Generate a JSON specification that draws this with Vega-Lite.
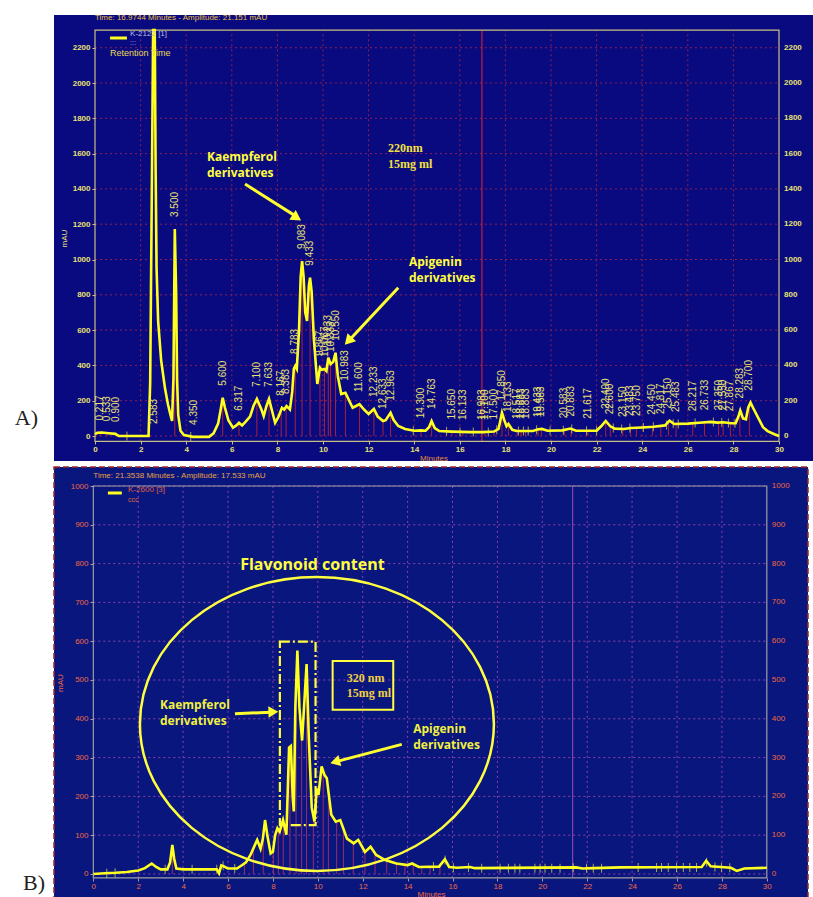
{
"$schema": "https://vega.github.io/schema/vega-lite/v6.json",
"background": "white",
"padding": {"left": 14, "top": 14, "right": 0, "bottom": 0},
"bounds": "flush",
"spacing": 6,
"config": {"view": {"stroke": null}, "font": "Liberation Sans"},
"resolve": {"scale": {"x": "independent", "y": "independent"}},
"datasets": {
"topCurve": [
{"t":0,"v":10},{"t":0.1,"v":18},{"t":0.3,"v":20},{"t":0.6,"v":16},{"t":0.9,"v":12},{"t":1.0,"v":3},{"t":1.05,"v":0},{"t":2.35,"v":0},{"t":2.42,"v":300},{"t":2.5,"v":1500},{"t":2.55,"v":2300},{"t":2.62,"v":2300},{"t":2.66,"v":1500},{"t":2.7,"v":950},{"t":2.77,"v":650},{"t":2.9,"v":430},{"t":3.07,"v":270},{"t":3.2,"v":180},{"t":3.3,"v":125},{"t":3.38,"v":85},{"t":3.44,"v":320},{"t":3.5,"v":1173},{"t":3.56,"v":800},{"t":3.6,"v":320},{"t":3.65,"v":120},{"t":3.75,"v":30},{"t":3.9,"v":5},{"t":4.3,"v":-5},{"t":5.0,"v":-5},{"t":5.2,"v":15},{"t":5.4,"v":70},{"t":5.5,"v":140},{"t":5.6,"v":217},{"t":5.7,"v":160},{"t":5.85,"v":90},{"t":6.05,"v":47},{"t":6.2,"v":60},{"t":6.317,"v":75},{"t":6.45,"v":60},{"t":6.6,"v":80},{"t":6.8,"v":110},{"t":6.95,"v":170},{"t":7.1,"v":210},{"t":7.3,"v":150},{"t":7.4,"v":113},{"t":7.52,"v":170},{"t":7.633,"v":210},{"t":7.75,"v":150},{"t":7.9,"v":75},{"t":8.05,"v":110},{"t":8.2,"v":160},{"t":8.3,"v":150},{"t":8.4,"v":170},{"t":8.55,"v":150},{"t":8.65,"v":250},{"t":8.72,"v":380},{"t":8.783,"v":397},{"t":8.85,"v":380},{"t":8.95,"v":600},{"t":9.02,"v":900},{"t":9.083,"v":991},{"t":9.15,"v":900},{"t":9.22,"v":700},{"t":9.3,"v":652},{"t":9.38,"v":850},{"t":9.433,"v":897},{"t":9.5,"v":820},{"t":9.6,"v":550},{"t":9.75,"v":295},{"t":9.867,"v":387},{"t":9.95,"v":375},{"t":10.067,"v":380},{"t":10.15,"v":368},{"t":10.233,"v":444},{"t":10.333,"v":408},{"t":10.45,"v":420},{"t":10.55,"v":472},{"t":10.65,"v":340},{"t":10.8,"v":238},{"t":10.983,"v":245},{"t":11.15,"v":200},{"t":11.3,"v":160},{"t":11.45,"v":170},{"t":11.6,"v":181},{"t":11.8,"v":150},{"t":12.0,"v":125},{"t":12.233,"v":153},{"t":12.4,"v":110},{"t":12.633,"v":85},{"t":12.75,"v":90},{"t":12.963,"v":132},{"t":13.1,"v":90},{"t":13.3,"v":57},{"t":13.6,"v":40},{"t":14.0,"v":30},{"t":14.3,"v":32},{"t":14.5,"v":30},{"t":14.65,"v":50},{"t":14.763,"v":85},{"t":14.9,"v":45},{"t":15.1,"v":28},{"t":15.65,"v":25},{"t":16.5,"v":22},{"t":17.0,"v":22},{"t":17.5,"v":25},{"t":17.7,"v":40},{"t":17.85,"v":132},{"t":17.95,"v":90},{"t":18.05,"v":55},{"t":18.133,"v":68},{"t":18.3,"v":35},{"t":18.5,"v":28},{"t":19.2,"v":28},{"t":19.45,"v":38},{"t":19.6,"v":40},{"t":19.85,"v":30},{"t":20.5,"v":32},{"t":20.85,"v":42},{"t":21.1,"v":30},{"t":22.0,"v":30},{"t":22.2,"v":55},{"t":22.4,"v":85},{"t":22.6,"v":55},{"t":22.8,"v":42},{"t":23.2,"v":40},{"t":23.5,"v":45},{"t":24.0,"v":48},{"t":24.5,"v":52},{"t":25.0,"v":60},{"t":25.2,"v":87},{"t":25.4,"v":68},{"t":26.0,"v":70},{"t":26.5,"v":75},{"t":27.0,"v":80},{"t":27.3,"v":76},{"t":27.55,"v":78},{"t":27.9,"v":72},{"t":28.1,"v":72},{"t":28.22,"v":110},{"t":28.3,"v":145},{"t":28.42,"v":100},{"t":28.55,"v":95},{"t":28.65,"v":160},{"t":28.75,"v":189},{"t":28.9,"v":150},{"t":29.1,"v":100},{"t":29.3,"v":50},{"t":29.5,"v":28},{"t":29.8,"v":10},{"t":30,"v":0}
],
"topPeaks": [
{"t":0.217,"h":20,"lab":"0.217"},{"t":0.533,"h":16,"lab":"0.533"},{"t":0.9,"h":12,"lab":"0.900"},{"t":2.583,"h":0,"lab":"2.583"},{"t":3.5,"h":1173,"lab":"3.500"},{"t":4.35,"h":-5,"lab":"4.350"},{"t":5.6,"h":217,"lab":"5.600"},{"t":6.317,"h":75,"lab":"6.317"},{"t":7.1,"h":210,"lab":"7.100"},{"t":7.633,"h":210,"lab":"7.633"},{"t":8.167,"h":160,"lab":"8.167"},{"t":8.383,"h":170,"lab":"8.383"},{"t":8.783,"h":397,"lab":"8.783"},{"t":9.083,"h":991,"lab":"9.083"},{"t":9.433,"h":897,"lab":"9.433"},{"t":9.867,"h":387,"lab":"9.867"},{"t":10.067,"h":380,"lab":"10.067"},{"t":10.233,"h":444,"lab":"10.233"},{"t":10.333,"h":408,"lab":"10.333"},{"t":10.55,"h":472,"lab":"10.550"},{"t":10.983,"h":245,"lab":"10.983"},{"t":11.6,"h":181,"lab":"11.600"},{"t":12.233,"h":153,"lab":"12.233"},{"t":12.633,"h":85,"lab":"12.633"},{"t":12.963,"h":132,"lab":"12.963"},{"t":14.3,"h":32,"lab":"14.300"},{"t":14.763,"h":85,"lab":"14.763"},{"t":15.65,"h":25,"lab":"15.650"},{"t":16.133,"h":22,"lab":"16.133"},{"t":16.983,"h":22,"lab":"16.983"},{"t":17.1,"h":22,"lab":"17.100"},{"t":17.5,"h":25,"lab":"17.500"},{"t":17.85,"h":132,"lab":"17.850"},{"t":18.133,"h":68,"lab":"18.133"},{"t":18.517,"h":28,"lab":"18.517"},{"t":18.683,"h":28,"lab":"18.683"},{"t":18.883,"h":28,"lab":"18.883"},{"t":19.433,"h":38,"lab":"19.433"},{"t":19.583,"h":40,"lab":"19.583"},{"t":20.583,"h":32,"lab":"20.583"},{"t":20.883,"h":42,"lab":"20.883"},{"t":21.617,"h":30,"lab":"21.617"},{"t":22.4,"h":85,"lab":"22.400"},{"t":22.6,"h":55,"lab":"22.600"},{"t":23.15,"h":40,"lab":"23.150"},{"t":23.483,"h":45,"lab":"23.483"},{"t":23.75,"h":46,"lab":"23.750"},{"t":24.45,"h":52,"lab":"24.450"},{"t":24.817,"h":56,"lab":"24.817"},{"t":25.15,"h":87,"lab":"25.150"},{"t":25.483,"h":68,"lab":"25.483"},{"t":26.217,"h":72,"lab":"26.217"},{"t":26.733,"h":78,"lab":"26.733"},{"t":27.35,"h":76,"lab":"27.350"},{"t":27.55,"h":78,"lab":"27.550"},{"t":27.867,"h":72,"lab":"27.867"},{"t":28.283,"h":145,"lab":"28.283"},{"t":28.7,"h":189,"lab":"28.700"}
],
"topTicks": [
{"t":1.4,"h":0},{"t":4.2,"h":-3},{"t":13.96,"h":30},{"t":15.42,"h":27},{"t":16.01,"h":22},{"t":16.59,"h":22},{"t":17.25,"h":23},{"t":17.62,"h":35},{"t":18.57,"h":28},{"t":18.79,"h":28},{"t":19.0,"h":28},{"t":19.37,"h":35},{"t":19.96,"h":30},{"t":20.54,"h":32},{"t":20.91,"h":40},{"t":21.56,"h":30},{"t":22.0,"h":30},{"t":22.73,"h":45},{"t":23.1,"h":40},{"t":23.46,"h":45},{"t":24.05,"h":48},{"t":24.49,"h":52},{"t":25.07,"h":62},{"t":25.36,"h":70},{"t":25.58,"h":68},{"t":26.32,"h":73},{"t":27.12,"h":79},{"t":27.49,"h":77},{"t":27.78,"h":74},{"t":28.07,"h":72}
],
"gridTopX": [{"g":2},{"g":4},{"g":6},{"g":8},{"g":10},{"g":12},{"g":14},{"g":16},{"g":18},{"g":20},{"g":22},{"g":24},{"g":26},{"g":28}],
"gridTopY": [{"g":0},{"g":200},{"g":400},{"g":600},{"g":800},{"g":1000},{"g":1200},{"g":1400},{"g":1600},{"g":1800},{"g":2000},{"g":2200}],
"botCurve": [
{"t":0,"v":0},{"t":0.5,"v":2},{"t":1.0,"v":3},{"t":1.5,"v":5},{"t":2.0,"v":9},{"t":2.3,"v":15},{"t":2.6,"v":27},{"t":2.8,"v":18},{"t":3.0,"v":12},{"t":3.3,"v":12},{"t":3.42,"v":30},{"t":3.52,"v":75},{"t":3.6,"v":40},{"t":3.7,"v":14},{"t":4.0,"v":12},{"t":5.5,"v":12},{"t":5.6,"v":2},{"t":5.7,"v":22},{"t":5.8,"v":20},{"t":6.0,"v":14},{"t":6.4,"v":14},{"t":6.6,"v":22},{"t":6.8,"v":30},{"t":7.0,"v":49},{"t":7.2,"v":75},{"t":7.3,"v":88},{"t":7.45,"v":65},{"t":7.55,"v":90},{"t":7.65,"v":139},{"t":7.75,"v":100},{"t":7.9,"v":53},{"t":8.0,"v":57},{"t":8.1,"v":100},{"t":8.2,"v":118},{"t":8.3,"v":109},{"t":8.45,"v":139},{"t":8.6,"v":101},{"t":8.68,"v":250},{"t":8.72,"v":326},{"t":8.8,"v":330},{"t":8.88,"v":200},{"t":8.93,"v":161},{"t":9.0,"v":430},{"t":9.09,"v":576},{"t":9.18,"v":430},{"t":9.3,"v":344},{"t":9.5,"v":541},{"t":9.6,"v":350},{"t":9.73,"v":171},{"t":9.85,"v":135},{"t":9.95,"v":221},{"t":10.03,"v":204},{"t":10.17,"v":277},{"t":10.3,"v":255},{"t":10.4,"v":247},{"t":10.6,"v":153},{"t":10.8,"v":135},{"t":11.0,"v":139},{"t":11.3,"v":91},{"t":11.6,"v":79},{"t":11.8,"v":88},{"t":12.1,"v":57},{"t":12.35,"v":70},{"t":12.6,"v":49},{"t":13.0,"v":36},{"t":13.5,"v":27},{"t":14.0,"v":23},{"t":14.2,"v":27},{"t":14.5,"v":18},{"t":15.4,"v":19},{"t":15.66,"v":38},{"t":15.85,"v":18},{"t":16.2,"v":16},{"t":16.78,"v":18},{"t":17.0,"v":15},{"t":21.5,"v":17},{"t":21.8,"v":14},{"t":22.3,"v":15},{"t":23.5,"v":17},{"t":27.1,"v":18},{"t":27.3,"v":34},{"t":27.5,"v":20},{"t":28.4,"v":16},{"t":28.66,"v":8},{"t":29.0,"v":14},{"t":30,"v":16}
],
"botPeaks": [
{"t":3.52,"h":70},{"t":6.73,"h":27},{"t":7.13,"h":65},{"t":7.57,"h":90},{"t":8.02,"h":60},{"t":8.24,"h":115},{"t":8.46,"h":135},{"t":8.76,"h":326},{"t":9.03,"h":450},{"t":9.28,"h":360},{"t":9.5,"h":541},{"t":9.8,"h":140},{"t":10.24,"h":265},{"t":10.47,"h":230},{"t":10.84,"h":135},{"t":11.14,"h":115},{"t":11.58,"h":80},{"t":12.1,"h":57},{"t":12.55,"h":52},{"t":13.07,"h":35},{"t":13.51,"h":27},{"t":13.88,"h":24},{"t":14.25,"h":26},{"t":14.63,"h":18},{"t":15.0,"h":18},{"t":15.44,"h":20}
],
"botTicks": [
{"t":0.6,"h":2},{"t":0.97,"h":3},{"t":3.2,"h":12},{"t":4.4,"h":12},{"t":5.5,"h":12},{"t":5.78,"h":21},{"t":6.3,"h":14},{"t":15.15,"h":19},{"t":15.67,"h":36},{"t":16.04,"h":16},{"t":16.71,"h":17},{"t":17.3,"h":15},{"t":18.12,"h":15},{"t":18.49,"h":15},{"t":18.78,"h":15},{"t":19.0,"h":15},{"t":19.67,"h":15},{"t":19.9,"h":15},{"t":20.12,"h":15},{"t":20.42,"h":15},{"t":20.79,"h":15},{"t":21.38,"h":16},{"t":21.97,"h":15},{"t":22.27,"h":15},{"t":22.64,"h":15},{"t":24.27,"h":17},{"t":25.09,"h":17},{"t":25.31,"h":17},{"t":25.61,"h":17},{"t":25.98,"h":17},{"t":26.28,"h":17},{"t":26.57,"h":17},{"t":26.87,"h":17},{"t":27.32,"h":30},{"t":27.69,"h":18},{"t":27.98,"h":17},{"t":28.35,"h":16}
],
"gridBotX": [{"g":2},{"g":4},{"g":6},{"g":8},{"g":10},{"g":12},{"g":14},{"g":16},{"g":18},{"g":20},{"g":22},{"g":24},{"g":26},{"g":28}],
"gridBotY": [{"g":0},{"g":100},{"g":200},{"g":300},{"g":400},{"g":500},{"g":600},{"g":700},{"g":800},{"g":900},{"g":1000}],
"one": [{"k":1}]
},
"vconcat": [
{
"width": 759, "height": 446,
"view": {"fill": "#0a0a80", "stroke": null},
"layer": [
{"data": {"name": "gridTopX"}, "mark": {"type": "rule", "color": "#8c2050", "strokeDash": [2, 3], "strokeWidth": 1},
 "encoding": {"x": {"field": "g", "type": "quantitative", "scale": {"domain": [-1.798, 31.491], "nice": false, "zero": false},
   "axis": {"zindex": 2, "offset": -20, "values": [0,2,4,6,8,10,12,14,16,18,20,22,24,26,28,30], "format": "d", "title": "Minutes", "titleFontSize": 8, "titleColor": "#e09030", "titleFontWeight": "normal", "titlePadding": 1, "grid": false, "domain": false, "ticks": true, "tickSize": 3, "tickColor": "#c8c080", "labelColor": "#e8e070", "labelFontSize": 8, "labelFontWeight": "bold", "labelPadding": 1}},
  "y": {"datum": -30, "type": "quantitative", "scale": {"domain": [-141.65, 2385.4], "nice": false, "zero": false}}, "y2": {"datum": 2300}}},
{"data": {"name": "gridTopY"}, "mark": {"type": "rule", "color": "#8c2050", "strokeDash": [2, 3], "strokeWidth": 1},
 "encoding": {"y": {"field": "g", "type": "quantitative", "scale": {"domain": [-141.65, 2385.4], "nice": false, "zero": false},
   "axis": {"zindex": 2, "orient": "left", "offset": -41, "values": [0,200,400,600,800,1000,1200,1400,1600,1800,2000,2200], "format": "d", "title": "mAU", "titleFontSize": 8, "titleColor": "#e8e070", "titleFontWeight": "normal", "titlePadding": 4, "grid": false, "domain": false, "ticks": true, "tickSize": 3, "tickColor": "#c8c080", "labelColor": "#e8e070", "labelFontSize": 8, "labelFontWeight": "bold", "labelPadding": 2}},
  "x": {"datum": 0, "type": "quantitative", "scale": {"domain": [-1.798, 31.491], "nice": false, "zero": false}}, "x2": {"datum": 30}}},
{"data": {"name": "gridTopY"}, "mark": {"type": "text", "align": "left", "baseline": "middle", "dx": 5, "fontSize": 8, "fontWeight": "bold", "color": "#e8e070"},
 "encoding": {"y": {"field": "g", "type": "quantitative", "scale": {"domain": [-141.65, 2385.4], "nice": false, "zero": false}},
  "x": {"datum": 30, "type": "quantitative", "scale": {"domain": [-1.798, 31.491], "nice": false, "zero": false}},
  "text": {"field": "g", "type": "quantitative", "format": "d"}}},
{"data": {"name": "one"}, "mark": {"type": "rule", "color": "#c0203a", "strokeWidth": 1.2},
 "encoding": {"x": {"datum": 16.97, "type": "quantitative", "scale": {"domain": [-1.798, 31.491], "nice": false, "zero": false}},
  "y": {"datum": -30, "type": "quantitative", "scale": {"domain": [-141.65, 2385.4], "nice": false, "zero": false}}, "y2": {"datum": 2300}}},
{"data": {"name": "topPeaks"}, "mark": {"type": "rule", "color": "#a8203c", "strokeWidth": 1},
 "encoding": {"x": {"field": "t", "type": "quantitative", "scale": {"domain": [-1.798, 31.491], "nice": false, "zero": false}},
  "y": {"field": "h", "type": "quantitative", "scale": {"domain": [-141.65, 2385.4], "nice": false, "zero": false}}, "y2": {"datum": 0}}},
{"data": {"name": "one"}, "mark": {"type": "rect", "fillOpacity": 0, "stroke": "#c8c080", "strokeWidth": 1.2},
 "encoding": {"x": {"datum": 0, "type": "quantitative", "scale": {"domain": [-1.798, 31.491], "nice": false, "zero": false}}, "x2": {"datum": 30},
  "y": {"datum": -30, "type": "quantitative", "scale": {"domain": [-141.65, 2385.4], "nice": false, "zero": false}}, "y2": {"datum": 2300}}},
{"data": {"name": "topTicks"}, "mark": {"type": "tick", "orient": "vertical", "color": "#f0e840", "size": 9, "thickness": 1},
 "encoding": {"x": {"field": "t", "type": "quantitative", "scale": {"domain": [-1.798, 31.491], "nice": false, "zero": false}},
  "y": {"field": "h", "type": "quantitative", "scale": {"domain": [-141.65, 2385.4], "nice": false, "zero": false}}}},
{"data": {"name": "topCurve"}, "mark": {"type": "line", "strokeWidth": 2.6, "clip": true, "color": "#ffff20"},
 "encoding": {"x": {"field": "t", "type": "quantitative", "scale": {"domain": [-1.798, 31.491], "nice": false, "zero": false}},
  "y": {"field": "v", "type": "quantitative", "scale": {"domain": [-141.65, 2385.4], "nice": false, "zero": false}}}},
{"data": {"name": "topPeaks"}, "mark": {"type": "text", "angle": 270, "align": "left", "baseline": "middle", "dx": 12, "fontSize": 10, "color": "#e8e070"},
 "encoding": {"x": {"field": "t", "type": "quantitative", "scale": {"domain": [-1.798, 31.491], "nice": false, "zero": false}},
  "y": {"field": "h", "type": "quantitative", "scale": {"domain": [-141.65, 2385.4], "nice": false, "zero": false}},
  "text": {"field": "lab"}}},
{"data": {"name": "one"}, "mark": {"type": "text", "text": "Time:  16.9744 Minutes - Amplitude:  21.151 mAU", "align": "left", "baseline": "middle", "fontSize": 8, "color": "#e8c040"},
 "encoding": {"x": {"datum": 0, "type": "quantitative", "scale": {"domain": [-1.798, 31.491], "nice": false, "zero": false}},
  "y": {"datum": 2367, "type": "quantitative", "scale": {"domain": [-141.65, 2385.4], "nice": false, "zero": false}}}},
{"data": {"name": "one"}, "mark": {"type": "rule", "color": "#ffff20", "strokeWidth": 3},
 "encoding": {"x": {"datum": 0.66, "type": "quantitative", "scale": {"domain": [-1.798, 31.491], "nice": false, "zero": false}}, "x2": {"datum": 1.4},
  "y": {"datum": 2255, "type": "quantitative", "scale": {"domain": [-141.65, 2385.4], "nice": false, "zero": false}}, "y2": {"datum": 2255}}},
{"data": {"name": "one"}, "mark": {"type": "text", "text": "K-2122 [1]", "align": "left", "baseline": "middle", "fontSize": 8, "color": "#b8b8e0"},
 "encoding": {"x": {"datum": 1.54, "type": "quantitative", "scale": {"domain": [-1.798, 31.491], "nice": false, "zero": false}},
  "y": {"datum": 2278, "type": "quantitative", "scale": {"domain": [-141.65, 2385.4], "nice": false, "zero": false}}}},
{"data": {"name": "one"}, "mark": {"type": "text", "text": ":::", "align": "left", "baseline": "middle", "fontSize": 7, "color": "#b8b8e0"},
 "encoding": {"x": {"datum": 1.54, "type": "quantitative", "scale": {"domain": [-1.798, 31.491], "nice": false, "zero": false}},
  "y": {"datum": 2228, "type": "quantitative", "scale": {"domain": [-141.65, 2385.4], "nice": false, "zero": false}}}},
{"data": {"name": "one"}, "mark": {"type": "text", "text": "Retention Time", "align": "left", "baseline": "middle", "fontSize": 9, "color": "#e8d850"},
 "encoding": {"x": {"datum": 0.66, "type": "quantitative", "scale": {"domain": [-1.798, 31.491], "nice": false, "zero": false}},
  "y": {"datum": 2168, "type": "quantitative", "scale": {"domain": [-141.65, 2385.4], "nice": false, "zero": false}}}},
{"data": {"name": "one"}, "mark": {"type": "text", "text": ["Kaempferol", "derivatives"], "lineHeight": 16, "align": "left", "baseline": "middle", "font": "Open Sans", "fontWeight": "bold", "fontSize": 12, "color": "#ffff40"},
 "encoding": {"x": {"datum": 4.91, "type": "quantitative", "scale": {"domain": [-1.798, 31.491], "nice": false, "zero": false}},
  "y": {"datum": 1580, "type": "quantitative", "scale": {"domain": [-141.65, 2385.4], "nice": false, "zero": false}}}},
{"data": {"name": "one"}, "mark": {"type": "text", "text": ["220nm", "15mg ml"], "lineHeight": 16, "align": "left", "baseline": "middle", "font": "Liberation Serif", "fontWeight": "bold", "fontSize": 12, "color": "#f0e040"},
 "encoding": {"x": {"datum": 12.85, "type": "quantitative", "scale": {"domain": [-1.798, 31.491], "nice": false, "zero": false}},
  "y": {"datum": 1633, "type": "quantitative", "scale": {"domain": [-141.65, 2385.4], "nice": false, "zero": false}}}},
{"data": {"name": "one"}, "mark": {"type": "text", "text": ["Apigenin", "derivatives"], "lineHeight": 16, "align": "left", "baseline": "middle", "font": "Open Sans", "fontWeight": "bold", "fontSize": 12, "color": "#ffff40"},
 "encoding": {"x": {"datum": 13.77, "type": "quantitative", "scale": {"domain": [-1.798, 31.491], "nice": false, "zero": false}},
  "y": {"datum": 985, "type": "quantitative", "scale": {"domain": [-141.65, 2385.4], "nice": false, "zero": false}}}},
{"data": {"name": "one"}, "mark": {"type": "rule", "color": "#ffff30", "strokeWidth": 3},
 "encoding": {"x": {"datum": 6.58, "type": "quantitative", "scale": {"domain": [-1.798, 31.491], "nice": false, "zero": false}}, "x2": {"datum": 8.75},
  "y": {"datum": 1428, "type": "quantitative", "scale": {"domain": [-141.65, 2385.4], "nice": false, "zero": false}}, "y2": {"datum": 1250}}},
{"data": {"name": "one"}, "mark": {"type": "point", "shape": "triangle-right", "filled": true, "color": "#ffff30", "size": 140, "angle": 33, "opacity": 1},
 "encoding": {"x": {"datum": 8.85, "type": "quantitative", "scale": {"domain": [-1.798, 31.491], "nice": false, "zero": false}},
  "y": {"datum": 1237, "type": "quantitative", "scale": {"domain": [-141.65, 2385.4], "nice": false, "zero": false}}}},
{"data": {"name": "one"}, "mark": {"type": "rule", "color": "#ffff30", "strokeWidth": 3},
 "encoding": {"x": {"datum": 13.3, "type": "quantitative", "scale": {"domain": [-1.798, 31.491], "nice": false, "zero": false}}, "x2": {"datum": 11.2},
  "y": {"datum": 840, "type": "quantitative", "scale": {"domain": [-141.65, 2385.4], "nice": false, "zero": false}}, "y2": {"datum": 550}}},
{"data": {"name": "one"}, "mark": {"type": "point", "shape": "triangle-right", "filled": true, "color": "#ffff30", "size": 140, "angle": 133, "opacity": 1},
 "encoding": {"x": {"datum": 11.11, "type": "quantitative", "scale": {"domain": [-1.798, 31.491], "nice": false, "zero": false}},
  "y": {"datum": 538, "type": "quantitative", "scale": {"domain": [-141.65, 2385.4], "nice": false, "zero": false}}}},
{"data": {"name": "one"}, "mark": {"type": "text", "text": "A)", "align": "right", "baseline": "middle", "font": "Liberation Serif", "fontSize": 22, "color": "#222222"},
 "encoding": {"x": {"datum": -2.5, "type": "quantitative", "scale": {"domain": [-1.798, 31.491], "nice": false, "zero": false}},
  "y": {"datum": 102, "type": "quantitative", "scale": {"domain": [-141.65, 2385.4], "nice": false, "zero": false}}}}
]
},
{
"width": 754, "height": 431,
"view": {"fill": "#08167e", "stroke": "#a02828", "strokeDash": [6, 3], "strokeWidth": 1.5},
"layer": [
{"data": {"name": "gridBotX"}, "mark": {"type": "rule", "color": "#9040a8", "strokeDash": [2, 3], "strokeWidth": 1},
 "encoding": {"x": {"field": "g", "type": "quantitative", "scale": {"domain": [-1.751, 31.835], "nice": false, "zero": false},
   "axis": {"zindex": 2, "offset": -20, "values": [0,2,4,6,8,10,12,14,16,18,20,22,24,26,28,30], "format": "d", "title": "Minutes", "titleFontSize": 8, "titleColor": "#f06a40", "titleFontWeight": "normal", "titlePadding": 0, "grid": false, "domain": false, "ticks": true, "tickSize": 3, "tickColor": "#a0a0a0", "labelColor": "#f06a40", "labelFontSize": 8, "labelPadding": 1}},
  "y": {"datum": -10, "type": "quantitative", "scale": {"domain": [-61.9, 1049], "nice": false, "zero": false}}, "y2": {"datum": 1000}}},
{"data": {"name": "gridBotY"}, "mark": {"type": "rule", "color": "#9040a8", "strokeDash": [2, 3], "strokeWidth": 1},
 "encoding": {"y": {"field": "g", "type": "quantitative", "scale": {"domain": [-61.9, 1049], "nice": false, "zero": false},
   "axis": {"zindex": 2, "orient": "left", "offset": -39, "values": [0,100,200,300,400,500,600,700,800,900,1000], "format": "d", "title": "mAU", "titleFontSize": 8, "titleColor": "#f06a40", "titleFontWeight": "normal", "titlePadding": 6, "grid": false, "domain": false, "ticks": true, "tickSize": 3, "tickColor": "#a0a0a0", "labelColor": "#f06a40", "labelFontSize": 8, "labelPadding": 2}},
  "x": {"datum": 0, "type": "quantitative", "scale": {"domain": [-1.751, 31.835], "nice": false, "zero": false}}, "x2": {"datum": 30}}},
{"data": {"name": "gridBotY"}, "mark": {"type": "text", "align": "left", "baseline": "middle", "dx": 5, "fontSize": 8, "color": "#f06a40"},
 "encoding": {"y": {"field": "g", "type": "quantitative", "scale": {"domain": [-61.9, 1049], "nice": false, "zero": false}},
  "x": {"datum": 30, "type": "quantitative", "scale": {"domain": [-1.751, 31.835], "nice": false, "zero": false}},
  "text": {"field": "g", "type": "quantitative", "format": "d"}}},
{"data": {"name": "one"}, "mark": {"type": "rule", "color": "#8a40b0", "strokeWidth": 1.2},
 "encoding": {"x": {"datum": 21.35, "type": "quantitative", "scale": {"domain": [-1.751, 31.835], "nice": false, "zero": false}},
  "y": {"datum": -10, "type": "quantitative", "scale": {"domain": [-61.9, 1049], "nice": false, "zero": false}}, "y2": {"datum": 1000}}},
{"data": {"name": "botPeaks"}, "mark": {"type": "rule", "color": "#9c2d6a", "strokeWidth": 1},
 "encoding": {"x": {"field": "t", "type": "quantitative", "scale": {"domain": [-1.751, 31.835], "nice": false, "zero": false}},
  "y": {"field": "h", "type": "quantitative", "scale": {"domain": [-61.9, 1049], "nice": false, "zero": false}}, "y2": {"datum": 0}}},
{"data": {"name": "one"}, "mark": {"type": "rect", "fillOpacity": 0, "stroke": "#a0a0a0", "strokeWidth": 1.2},
 "encoding": {"x": {"datum": 0, "type": "quantitative", "scale": {"domain": [-1.751, 31.835], "nice": false, "zero": false}}, "x2": {"datum": 30},
  "y": {"datum": -10, "type": "quantitative", "scale": {"domain": [-61.9, 1049], "nice": false, "zero": false}}, "y2": {"datum": 1000}}},
{"data": {"name": "botTicks"}, "mark": {"type": "tick", "orient": "vertical", "color": "#f0e840", "size": 9, "thickness": 1},
 "encoding": {"x": {"field": "t", "type": "quantitative", "scale": {"domain": [-1.751, 31.835], "nice": false, "zero": false}},
  "y": {"field": "h", "type": "quantitative", "scale": {"domain": [-61.9, 1049], "nice": false, "zero": false}}}},
{"data": {"name": "botCurve"}, "mark": {"type": "line", "strokeWidth": 2.6, "clip": true, "color": "#ffff20"},
 "encoding": {"x": {"field": "t", "type": "quantitative", "scale": {"domain": [-1.751, 31.835], "nice": false, "zero": false}},
  "y": {"field": "v", "type": "quantitative", "scale": {"domain": [-61.9, 1049], "nice": false, "zero": false}}}},
{"data": {"name": "one"}, "mark": {"type": "text", "text": "Time:  21.3538 Minutes - Amplitude:  17.533 mAU", "align": "left", "baseline": "middle", "fontSize": 8, "color": "#e8a040"},
 "encoding": {"x": {"datum": 0, "type": "quantitative", "scale": {"domain": [-1.751, 31.835], "nice": false, "zero": false}},
  "y": {"datum": 1026, "type": "quantitative", "scale": {"domain": [-61.9, 1049], "nice": false, "zero": false}}}},
{"data": {"name": "one"}, "mark": {"type": "rule", "color": "#ffff20", "strokeWidth": 3},
 "encoding": {"x": {"datum": 0.65, "type": "quantitative", "scale": {"domain": [-1.751, 31.835], "nice": false, "zero": false}}, "x2": {"datum": 1.27},
  "y": {"datum": 982, "type": "quantitative", "scale": {"domain": [-61.9, 1049], "nice": false, "zero": false}}, "y2": {"datum": 982}}},
{"data": {"name": "one"}, "mark": {"type": "text", "text": "K-2600 [3]", "align": "left", "baseline": "middle", "fontSize": 8, "color": "#e06040"},
 "encoding": {"x": {"datum": 1.55, "type": "quantitative", "scale": {"domain": [-1.751, 31.835], "nice": false, "zero": false}},
  "y": {"datum": 990, "type": "quantitative", "scale": {"domain": [-61.9, 1049], "nice": false, "zero": false}}}},
{"data": {"name": "one"}, "mark": {"type": "text", "text": "ccc", "align": "left", "baseline": "middle", "fontSize": 7, "color": "#e06040"},
 "encoding": {"x": {"datum": 1.55, "type": "quantitative", "scale": {"domain": [-1.751, 31.835], "nice": false, "zero": false}},
  "y": {"datum": 964, "type": "quantitative", "scale": {"domain": [-61.9, 1049], "nice": false, "zero": false}}}},
{"data": {"name": "one"}, "mark": {"type": "point", "shape": "M-1,0A1,0.83,0,1,1,1,0A1,0.83,0,1,1,-1,0Z", "filled": false, "stroke": "#ffff40", "strokeWidth": 2.5, "size": 125316, "opacity": 1},
 "encoding": {"x": {"datum": 9.96, "type": "quantitative", "scale": {"domain": [-1.751, 31.835], "nice": false, "zero": false}},
  "y": {"datum": 386.6, "type": "quantitative", "scale": {"domain": [-61.9, 1049], "nice": false, "zero": false}}}},
{"data": {"name": "one"}, "mark": {"type": "rect", "fillOpacity": 0, "stroke": "#ffff40", "strokeWidth": 2.2, "strokeDash": [10, 3, 2, 3]},
 "encoding": {"x": {"datum": 8.31, "type": "quantitative", "scale": {"domain": [-1.751, 31.835], "nice": false, "zero": false}}, "x2": {"datum": 9.9},
  "y": {"datum": 126, "type": "quantitative", "scale": {"domain": [-61.9, 1049], "nice": false, "zero": false}}, "y2": {"datum": 599}}},
{"data": {"name": "one"}, "mark": {"type": "rect", "fillOpacity": 0, "stroke": "#ffff40", "strokeWidth": 2},
 "encoding": {"x": {"datum": 10.66, "type": "quantitative", "scale": {"domain": [-1.751, 31.835], "nice": false, "zero": false}}, "x2": {"datum": 13.36},
  "y": {"datum": 423, "type": "quantitative", "scale": {"domain": [-61.9, 1049], "nice": false, "zero": false}}, "y2": {"datum": 549}}},
{"data": {"name": "one"}, "mark": {"type": "text", "text": ["320 nm", "15mg ml"], "lineHeight": 15, "align": "left", "baseline": "middle", "font": "Liberation Serif", "fontWeight": "bold", "fontSize": 12, "color": "#f0d040"},
 "encoding": {"x": {"datum": 11.29, "type": "quantitative", "scale": {"domain": [-1.751, 31.835], "nice": false, "zero": false}},
  "y": {"datum": 506, "type": "quantitative", "scale": {"domain": [-61.9, 1049], "nice": false, "zero": false}}}},
{"data": {"name": "one"}, "mark": {"type": "text", "text": "Flavonoid content", "align": "center", "baseline": "middle", "font": "Open Sans", "fontWeight": "bold", "fontSize": 16, "color": "#ffff40"},
 "encoding": {"x": {"datum": 9.76, "type": "quantitative", "scale": {"domain": [-1.751, 31.835], "nice": false, "zero": false}},
  "y": {"datum": 796, "type": "quantitative", "scale": {"domain": [-61.9, 1049], "nice": false, "zero": false}}}},
{"data": {"name": "one"}, "mark": {"type": "text", "text": ["Kaempferol", "derivatives"], "lineHeight": 16, "align": "left", "baseline": "middle", "font": "Open Sans", "fontWeight": "bold", "fontSize": 12, "color": "#f0f040"},
 "encoding": {"x": {"datum": 2.97, "type": "quantitative", "scale": {"domain": [-1.751, 31.835], "nice": false, "zero": false}},
  "y": {"datum": 435, "type": "quantitative", "scale": {"domain": [-61.9, 1049], "nice": false, "zero": false}}}},
{"data": {"name": "one"}, "mark": {"type": "text", "text": ["Apigenin", "derivatives"], "lineHeight": 16, "align": "left", "baseline": "middle", "font": "Open Sans", "fontWeight": "bold", "fontSize": 12, "color": "#f0f040"},
 "encoding": {"x": {"datum": 14.25, "type": "quantitative", "scale": {"domain": [-1.751, 31.835], "nice": false, "zero": false}},
  "y": {"datum": 374, "type": "quantitative", "scale": {"domain": [-61.9, 1049], "nice": false, "zero": false}}}},
{"data": {"name": "one"}, "mark": {"type": "rule", "color": "#ffff30", "strokeWidth": 3},
 "encoding": {"x": {"datum": 6.31, "type": "quantitative", "scale": {"domain": [-1.751, 31.835], "nice": false, "zero": false}}, "x2": {"datum": 7.9},
  "y": {"datum": 413, "type": "quantitative", "scale": {"domain": [-61.9, 1049], "nice": false, "zero": false}}, "y2": {"datum": 417}}},
{"data": {"name": "one"}, "mark": {"type": "point", "shape": "triangle-right", "filled": true, "color": "#ffff30", "size": 130, "angle": -2, "opacity": 1},
 "encoding": {"x": {"datum": 8.02, "type": "quantitative", "scale": {"domain": [-1.751, 31.835], "nice": false, "zero": false}},
  "y": {"datum": 418, "type": "quantitative", "scale": {"domain": [-61.9, 1049], "nice": false, "zero": false}}}},
{"data": {"name": "one"}, "mark": {"type": "rule", "color": "#ffff30", "strokeWidth": 3},
 "encoding": {"x": {"datum": 13.74, "type": "quantitative", "scale": {"domain": [-1.751, 31.835], "nice": false, "zero": false}}, "x2": {"datum": 10.9},
  "y": {"datum": 334, "type": "quantitative", "scale": {"domain": [-61.9, 1049], "nice": false, "zero": false}}, "y2": {"datum": 291}}},
{"data": {"name": "one"}, "mark": {"type": "point", "shape": "triangle-right", "filled": true, "color": "#ffff30", "size": 130, "angle": 165, "opacity": 1},
 "encoding": {"x": {"datum": 10.77, "type": "quantitative", "scale": {"domain": [-1.751, 31.835], "nice": false, "zero": false}},
  "y": {"datum": 289, "type": "quantitative", "scale": {"domain": [-61.9, 1049], "nice": false, "zero": false}}}},
{"data": {"name": "one"}, "mark": {"type": "text", "text": "B)", "align": "right", "baseline": "middle", "font": "Liberation Serif", "fontSize": 22, "color": "#222222"},
 "encoding": {"x": {"datum": -2.15, "type": "quantitative", "scale": {"domain": [-1.751, 31.835], "nice": false, "zero": false}},
  "y": {"datum": -23, "type": "quantitative", "scale": {"domain": [-61.9, 1049], "nice": false, "zero": false}}}}
]
}
]
}
